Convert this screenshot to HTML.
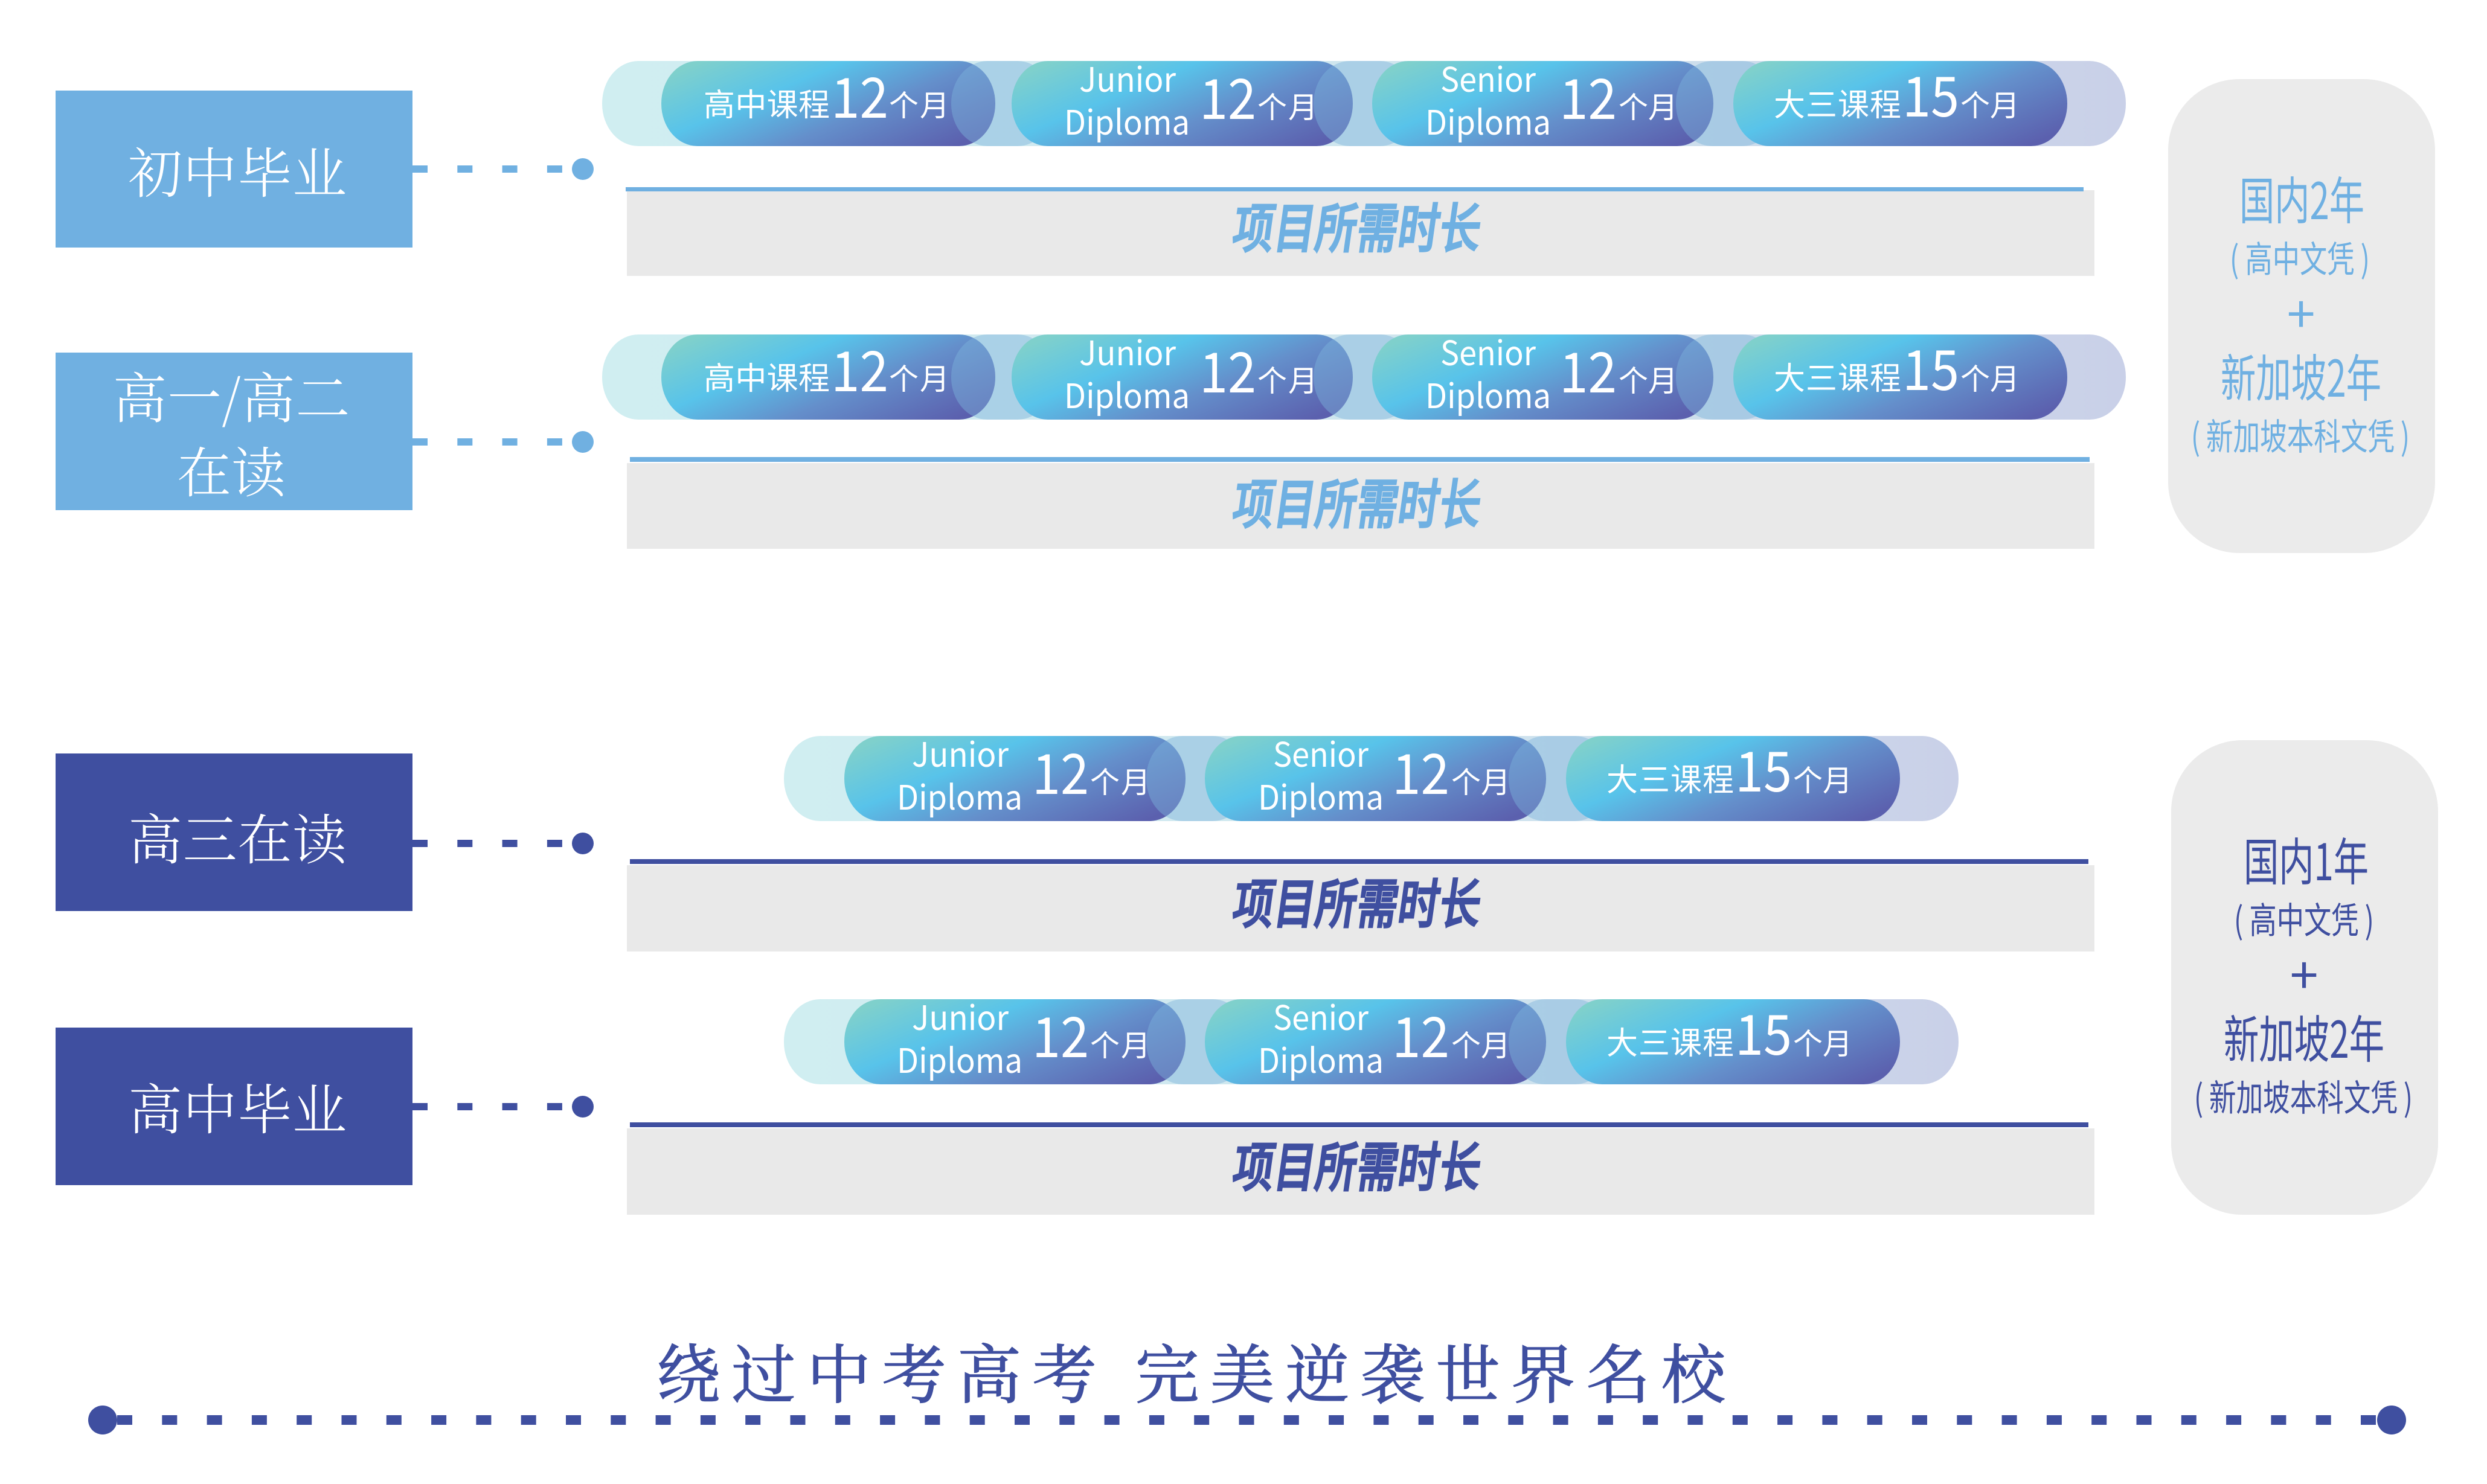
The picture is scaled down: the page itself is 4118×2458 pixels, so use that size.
<!DOCTYPE html>
<html><head><meta charset="utf-8"><style>
html,body{margin:0;padding:0;background:#fff}
svg{display:block}
text{font-family:"Liberation Sans","Noto Sans CJK SC",sans-serif}
.n{font-family:"Noto Sans CJK SC",sans-serif;font-weight:400;fill:#fff}
.h{font-family:"Noto Serif CJK SC",serif;font-weight:300;font-size:90px;fill:#fff}
.c{font-family:"Noto Sans CJK SC",sans-serif;font-weight:500;font-size:68px;stroke-width:2.2}
.r{font-family:"Noto Sans CJK SC",sans-serif;font-weight:400}
.l{fill:#6fb0e2}.d{fill:#3f4fa0}
.c.l{stroke:#6fb0e2}.c.d{stroke:#3f4fa0}
</style></head><body>
<svg xmlns="http://www.w3.org/2000/svg" width="4118" height="2458" viewBox="0 0 4118 2458">
<defs>
<linearGradient id="p" x1="0" y1="0.2" x2="1" y2="0.8"><stop offset="0" stop-color="#7fd0cc"/><stop offset="0.32" stop-color="#58c3ea"/><stop offset="0.62" stop-color="#648fcb"/><stop offset="1" stop-color="#5b60ae"/></linearGradient>
<linearGradient id="b"><stop offset="0" stop-color="#d0eef1"/><stop offset="0.6" stop-color="#cfe4ee"/><stop offset="1" stop-color="#c9d0e8"/></linearGradient>
</defs>
<rect width="4118" height="2458" fill="#fff"/>

<!-- left boxes -->
<rect x="92" y="150" width="591" height="260" fill="#70b0e1"/>
<rect x="92" y="584" width="591" height="261" fill="#70b0e1"/>
<rect x="92" y="1248" width="591" height="261" fill="#3f4fa0"/>
<rect x="92" y="1702" width="591" height="261" fill="#3f4fa0"/>
<text class="h" x="393" y="319" text-anchor="middle" textLength="362">初中毕业</text>
<text class="h" x="383" y="692" text-anchor="middle" textLength="393">高一/高二</text>
<text class="h" x="383" y="815" text-anchor="middle" textLength="180">在读</text>
<text class="h" x="393" y="1423" text-anchor="middle" textLength="362">高三在读</text>
<text class="h" x="393" y="1870" text-anchor="middle" textLength="362">高中毕业</text>

<!-- connectors -->
<g stroke-width="12" stroke-dasharray="25 49.3" fill="none">
<line x1="683" y1="280" x2="950" y2="280" stroke="#70b0e1"/>
<line x1="683" y1="732" x2="950" y2="732" stroke="#70b0e1"/>
<line x1="683" y1="1397" x2="950" y2="1397" stroke="#3f4fa0"/>
<line x1="683" y1="1833" x2="950" y2="1833" stroke="#3f4fa0"/>
</g>
<circle cx="965" cy="280" r="18" fill="#70b0e1"/>
<circle cx="965" cy="732" r="18" fill="#70b0e1"/>
<circle cx="965" cy="1397" r="18" fill="#3f4fa0"/>
<circle cx="965" cy="1833" r="18" fill="#3f4fa0"/>

<!-- gray bars + rules -->
<rect x="1038" y="315" width="2430" height="142" fill="#e9e9e9"/>
<rect x="1038" y="767" width="2430" height="142" fill="#e9e9e9"/>
<rect x="1038" y="1433" width="2430" height="143" fill="#e9e9e9"/>
<rect x="1038" y="1869" width="2430" height="143" fill="#e9e9e9"/>
<rect x="1036" y="310" width="2414" height="7" fill="#70b0e1"/>
<rect x="1043" y="757" width="2417" height="8" fill="#70b0e1"/>
<rect x="1043" y="1423" width="2415" height="8" fill="#3f4fa0"/>
<rect x="1043" y="1859" width="2415" height="8" fill="#3f4fa0"/>
<text class="c l" transform="translate(2038,410) skewX(-8) scale(1,1.3)" textLength="410">项目所需时长</text>
<text class="c l" transform="translate(2038,867) skewX(-8) scale(1,1.3)" textLength="410">项目所需时长</text>
<text class="c d" transform="translate(2038,1529) skewX(-8) scale(1,1.3)" textLength="410">项目所需时长</text>
<text class="c d" transform="translate(2038,1965) skewX(-8) scale(1,1.3)" textLength="410">项目所需时长</text>

<!-- row 1 -->
<g>
<rect x="997" y="101" width="2523" height="141" rx="60" ry="70" fill="url(#b)"/>
<rect x="1095" y="101" width="553" height="141" rx="60" ry="70" fill="url(#p)"/>
<rect x="1575" y="101" width="170" height="141" rx="60" ry="70" fill="#7cb4dc" fill-opacity=".45"/>
<rect x="1675" y="101" width="565" height="141" rx="60" ry="70" fill="url(#p)"/>
<rect x="2175" y="101" width="170" height="141" rx="60" ry="70" fill="#7cb4dc" fill-opacity=".45"/>
<rect x="2272" y="101" width="565" height="141" rx="60" ry="70" fill="url(#p)"/>
<rect x="2775" y="101" width="170" height="141" rx="60" ry="70" fill="#7cb4dc" fill-opacity=".45"/>
<rect x="2870" y="101" width="553" height="141" rx="60" ry="70" fill="url(#p)"/>
<text class="n" x="1165" y="192" font-size="52" textLength="209">高中课程</text>
<text class="n" x="1376" y="195" font-size="92" textLength="95" lengthAdjust="spacingAndGlyphs">12</text>
<text class="n" x="1472" y="192" font-size="49" textLength="100">个月</text>
<text class="n" x="1787" y="152" font-size="56" textLength="160" lengthAdjust="spacingAndGlyphs">Junior</text>
<text class="n" x="1762" y="223" font-size="56" textLength="208" lengthAdjust="spacingAndGlyphs">Diploma</text>
<text class="n" x="1986" y="197" font-size="92" textLength="94" lengthAdjust="spacingAndGlyphs">12</text>
<text class="n" x="2082" y="195" font-size="49" textLength="100">个月</text>
<text class="n" x="2385" y="152" font-size="56" textLength="158" lengthAdjust="spacingAndGlyphs">Senior</text>
<text class="n" x="2360" y="223" font-size="56" textLength="208" lengthAdjust="spacingAndGlyphs">Diploma</text>
<text class="n" x="2582" y="197" font-size="92" textLength="95" lengthAdjust="spacingAndGlyphs">12</text>
<text class="n" x="2680" y="195" font-size="49" textLength="98">个月</text>
<text class="n" x="2937" y="192" font-size="52" textLength="211">大三课程</text>
<text class="n" x="3150" y="193" font-size="92" textLength="94" lengthAdjust="spacingAndGlyphs">15</text>
<text class="n" x="3246" y="192" font-size="49" textLength="98">个月</text>
</g>

<!-- row 2 -->
<g transform="translate(0,453)">
<rect x="997" y="101" width="2523" height="141" rx="60" ry="70" fill="url(#b)"/>
<rect x="1095" y="101" width="553" height="141" rx="60" ry="70" fill="url(#p)"/>
<rect x="1575" y="101" width="170" height="141" rx="60" ry="70" fill="#7cb4dc" fill-opacity=".45"/>
<rect x="1675" y="101" width="565" height="141" rx="60" ry="70" fill="url(#p)"/>
<rect x="2175" y="101" width="170" height="141" rx="60" ry="70" fill="#7cb4dc" fill-opacity=".45"/>
<rect x="2272" y="101" width="565" height="141" rx="60" ry="70" fill="url(#p)"/>
<rect x="2775" y="101" width="170" height="141" rx="60" ry="70" fill="#7cb4dc" fill-opacity=".45"/>
<rect x="2870" y="101" width="553" height="141" rx="60" ry="70" fill="url(#p)"/>
<text class="n" x="1165" y="192" font-size="52" textLength="209">高中课程</text>
<text class="n" x="1376" y="195" font-size="92" textLength="95" lengthAdjust="spacingAndGlyphs">12</text>
<text class="n" x="1472" y="192" font-size="49" textLength="100">个月</text>
<text class="n" x="1787" y="152" font-size="56" textLength="160" lengthAdjust="spacingAndGlyphs">Junior</text>
<text class="n" x="1762" y="223" font-size="56" textLength="208" lengthAdjust="spacingAndGlyphs">Diploma</text>
<text class="n" x="1986" y="197" font-size="92" textLength="94" lengthAdjust="spacingAndGlyphs">12</text>
<text class="n" x="2082" y="195" font-size="49" textLength="100">个月</text>
<text class="n" x="2385" y="152" font-size="56" textLength="158" lengthAdjust="spacingAndGlyphs">Senior</text>
<text class="n" x="2360" y="223" font-size="56" textLength="208" lengthAdjust="spacingAndGlyphs">Diploma</text>
<text class="n" x="2582" y="197" font-size="92" textLength="95" lengthAdjust="spacingAndGlyphs">12</text>
<text class="n" x="2680" y="195" font-size="49" textLength="98">个月</text>
<text class="n" x="2937" y="192" font-size="52" textLength="211">大三课程</text>
<text class="n" x="3150" y="193" font-size="92" textLength="94" lengthAdjust="spacingAndGlyphs">15</text>
<text class="n" x="3246" y="192" font-size="49" textLength="98">个月</text>
</g>

<!-- row 3 -->
<g transform="translate(-277,1118)">
<rect x="1575" y="101" width="1945" height="141" rx="60" ry="70" fill="url(#b)"/>
<rect x="1675" y="101" width="565" height="141" rx="60" ry="70" fill="url(#p)"/>
<rect x="2175" y="101" width="170" height="141" rx="60" ry="70" fill="#7cb4dc" fill-opacity=".45"/>
<rect x="2272" y="101" width="565" height="141" rx="60" ry="70" fill="url(#p)"/>
<rect x="2775" y="101" width="170" height="141" rx="60" ry="70" fill="#7cb4dc" fill-opacity=".45"/>
<rect x="2870" y="101" width="553" height="141" rx="60" ry="70" fill="url(#p)"/>
<text class="n" x="1787" y="152" font-size="56" textLength="160" lengthAdjust="spacingAndGlyphs">Junior</text>
<text class="n" x="1762" y="223" font-size="56" textLength="208" lengthAdjust="spacingAndGlyphs">Diploma</text>
<text class="n" x="1986" y="197" font-size="92" textLength="94" lengthAdjust="spacingAndGlyphs">12</text>
<text class="n" x="2082" y="195" font-size="49" textLength="100">个月</text>
<text class="n" x="2385" y="152" font-size="56" textLength="158" lengthAdjust="spacingAndGlyphs">Senior</text>
<text class="n" x="2360" y="223" font-size="56" textLength="208" lengthAdjust="spacingAndGlyphs">Diploma</text>
<text class="n" x="2582" y="197" font-size="92" textLength="95" lengthAdjust="spacingAndGlyphs">12</text>
<text class="n" x="2680" y="195" font-size="49" textLength="98">个月</text>
<text class="n" x="2937" y="192" font-size="52" textLength="211">大三课程</text>
<text class="n" x="3150" y="193" font-size="92" textLength="94" lengthAdjust="spacingAndGlyphs">15</text>
<text class="n" x="3246" y="192" font-size="49" textLength="98">个月</text>
</g>

<!-- row 4 -->
<g transform="translate(-277,1554)">
<rect x="1575" y="101" width="1945" height="141" rx="60" ry="70" fill="url(#b)"/>
<rect x="1675" y="101" width="565" height="141" rx="60" ry="70" fill="url(#p)"/>
<rect x="2175" y="101" width="170" height="141" rx="60" ry="70" fill="#7cb4dc" fill-opacity=".45"/>
<rect x="2272" y="101" width="565" height="141" rx="60" ry="70" fill="url(#p)"/>
<rect x="2775" y="101" width="170" height="141" rx="60" ry="70" fill="#7cb4dc" fill-opacity=".45"/>
<rect x="2870" y="101" width="553" height="141" rx="60" ry="70" fill="url(#p)"/>
<text class="n" x="1787" y="152" font-size="56" textLength="160" lengthAdjust="spacingAndGlyphs">Junior</text>
<text class="n" x="1762" y="223" font-size="56" textLength="208" lengthAdjust="spacingAndGlyphs">Diploma</text>
<text class="n" x="1986" y="197" font-size="92" textLength="94" lengthAdjust="spacingAndGlyphs">12</text>
<text class="n" x="2082" y="195" font-size="49" textLength="100">个月</text>
<text class="n" x="2385" y="152" font-size="56" textLength="158" lengthAdjust="spacingAndGlyphs">Senior</text>
<text class="n" x="2360" y="223" font-size="56" textLength="208" lengthAdjust="spacingAndGlyphs">Diploma</text>
<text class="n" x="2582" y="197" font-size="92" textLength="95" lengthAdjust="spacingAndGlyphs">12</text>
<text class="n" x="2680" y="195" font-size="49" textLength="98">个月</text>
<text class="n" x="2937" y="192" font-size="52" textLength="211">大三课程</text>
<text class="n" x="3150" y="193" font-size="92" textLength="94" lengthAdjust="spacingAndGlyphs">15</text>
<text class="n" x="3246" y="192" font-size="49" textLength="98">个月</text>
</g>

<!-- right panels -->
<rect x="3590" y="131" width="442" height="785" rx="118" ry="118" fill="#ebebeb"/>
<text class="r l" x="3708" y="363" font-size="84" textLength="207" lengthAdjust="spacingAndGlyphs">国内2年</text>
<text class="r l" x="3692" y="451" font-size="60" textLength="232" lengthAdjust="spacingAndGlyphs">( 高中文凭 )</text>
<text class="r l" x="3810" y="551" font-size="84" text-anchor="middle">+</text>
<text class="r l" x="3677" y="657" font-size="84" textLength="266" lengthAdjust="spacingAndGlyphs">新加坡2年</text>
<text class="r l" x="3628" y="745" font-size="60" textLength="362" lengthAdjust="spacingAndGlyphs">( 新加坡本科文凭 )</text>
<rect x="3595" y="1226" width="442" height="786" rx="118" ry="118" fill="#ebebeb"/>
<text class="r d" x="3715" y="1458" font-size="84" textLength="207" lengthAdjust="spacingAndGlyphs">国内1年</text>
<text class="r d" x="3699" y="1546" font-size="60" textLength="232" lengthAdjust="spacingAndGlyphs">( 高中文凭 )</text>
<text class="r d" x="3815" y="1646" font-size="84" text-anchor="middle">+</text>
<text class="r d" x="3682" y="1752" font-size="84" textLength="266" lengthAdjust="spacingAndGlyphs">新加坡2年</text>
<text class="r d" x="3633" y="1840" font-size="60" textLength="362" lengthAdjust="spacingAndGlyphs">( 新加坡本科文凭 )</text>

<!-- bottom -->
<text x="1087" y="2315" font-size="106" fill="#3f4fa0" stroke="#3f4fa0" stroke-width="1.5" style="font-family:'Noto Serif CJK SC',serif" textLength="1770">绕过中考高考 完美逆袭世界名校</text>
<line x1="194" y1="2352" x2="3950" y2="2352" stroke="#3f4fa0" stroke-width="16" stroke-dasharray="25 49.3"/>
<circle cx="170" cy="2352" r="24" fill="#3f4fa0"/>
<circle cx="3960" cy="2352" r="24" fill="#3f4fa0"/>
</svg>
</body></html>
